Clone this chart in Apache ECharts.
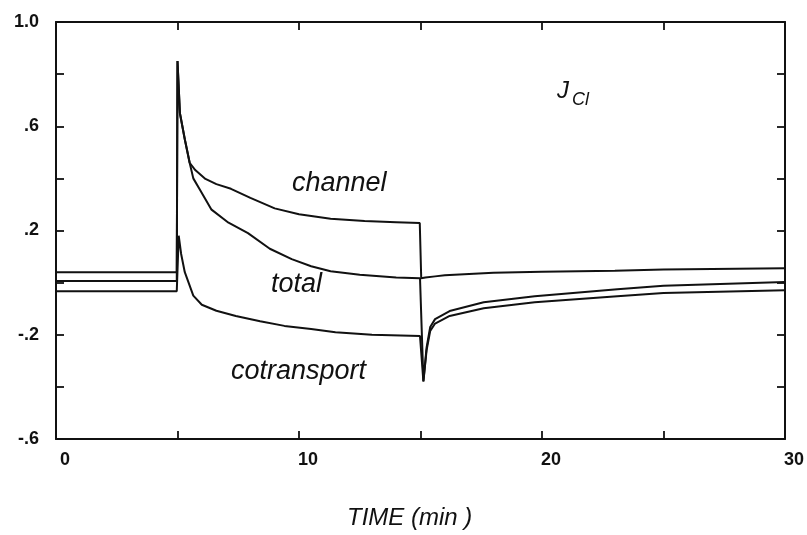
<!DOCTYPE html>
<html>
<head>
<meta charset="utf-8">
<script src="https://cdn.jsdelivr.net/npm/echarts@6/dist/echarts.min.js"></script>
<style>
  html, body { margin: 0; padding: 0; background: #fff; }
  #main { width: 807px; height: 535px; }
</style>
</head>
<body>
<div id="main"></div>
<script>
// J_Cl flux vs time (min)
const channelT = [0, 4.97, 5.0, 5.1, 5.3, 5.5, 5.73, 6.15, 6.6, 7.2, 8.0, 9.0, 10.0, 11.3, 12.7, 14.0, 14.97, 15.03, 15.2, 15.6, 16.0, 17.0, 18.0, 20.0, 23.0, 25.0, 30.0]
const channelV = [0.04, 0.04, 0.85, 0.65, 0.55, 0.46, 0.432, 0.398, 0.378, 0.36, 0.325, 0.285, 0.262, 0.245, 0.236, 0.232, 0.229, 0.017, 0.02, 0.024, 0.028, 0.033, 0.038, 0.042, 0.046, 0.05, 0.055]

const totalT = [0, 4.97, 5.0, 5.1, 5.3, 5.5, 5.65, 5.9, 6.4, 7.1, 7.9, 8.8, 9.7, 10.5, 11.3, 12.5, 14.0, 14.98, 15.12, 15.25, 15.4, 15.6, 16.2, 17.6, 19.7, 23.1, 25.0, 30.0]
const totalV = [0.006, 0.006, 0.85, 0.65, 0.55, 0.46, 0.40, 0.36, 0.28, 0.23, 0.19, 0.13, 0.09, 0.063, 0.044, 0.03, 0.02, 0.017, -0.377, -0.25, -0.17, -0.14, -0.109, -0.075, -0.052, -0.025, -0.012, 0.002]

const cotransT = [0, 4.97, 5.05, 5.15, 5.3, 5.65, 6.0, 6.6, 7.4, 8.4, 9.4, 10.5, 11.5, 13.0, 14.98, 15.12, 15.25, 15.4, 15.6, 16.2, 17.6, 19.7, 23.1, 25.0, 30.0]
const cotransV = [-0.033, -0.033, 0.18, 0.11, 0.04, -0.05, -0.085, -0.108, -0.128, -0.148, -0.166, -0.178, -0.19, -0.2, -0.205, -0.38, -0.26, -0.185, -0.157, -0.128, -0.098, -0.075, -0.052, -0.04, -0.029]

const xTickLabels = ['0', '10', '20', '30']
const yTickLabels = { '10': '1.0', '6': '.6', '2': '.2', '-2': '-.2', '-6': '-.6' }

const pairs = (ts, vs) => ts.map((t, i) => [t, vs[i]])

const FONT = '"Liberation Sans", Arial, sans-serif'
const INK = '#111'

function boxAxis(extra) {
  return Object.assign({
    type: 'value',
    axisLine: { show: true, onZero: false, lineStyle: { color: INK, width: 2 } },
    axisTick: { show: true, inside: true, length: 8, lineStyle: { color: INK, width: 1.8 } },
    splitLine: { show: false },
  }, extra)
}

const chart = echarts.init(document.getElementById('main'))

chart.setOption({
  animation: false,
  backgroundColor: '#fff',
  grid: { left: 56, right: 18, top: 22, bottom: 96 },
  xAxis: [
    boxAxis({
      min: 0, max: 30, interval: 5, position: 'bottom',
      axisLabel: {
        color: INK, fontFamily: FONT, fontSize: 18, fontWeight: 'bold', margin: 12,
        padding: [0, 0, 0, 18],
        formatter: (v) => xTickLabels.includes(String(v)) ? String(v) : '',
      },
    }),
    boxAxis({ min: 0, max: 30, interval: 5, position: 'top', axisLabel: { show: false } }),
  ],
  yAxis: [
    boxAxis({
      min: -0.6, max: 1.0, interval: 0.2, position: 'left',
      axisLabel: {
        color: INK, fontFamily: FONT, fontSize: 18, fontWeight: 'bold', margin: 17,
        formatter: (v) => yTickLabels[String(Math.round(v * 10))] || '',
      },
    }),
    boxAxis({ min: -0.6, max: 1.0, interval: 0.2, position: 'right', axisLabel: { show: false } }),
  ],
  series: [
    { name: 'channel', data: pairs(channelT, channelV) },
    { name: 'total', data: pairs(totalT, totalV) },
    { name: 'cotransport', data: pairs(cotransT, cotransV) },
  ].map((s) => Object.assign({
    type: 'line',
    showSymbol: false,
    lineStyle: { color: INK, width: 2 },
    z: 3,
  }, s)),
  graphic: [
    { type: 'text', left: 292, top: 170, style: { text: 'channel', font: 'italic 27px ' + FONT, fill: INK } },
    { type: 'text', left: 271, top: 271, style: { text: 'total', font: 'italic 27px ' + FONT, fill: INK } },
    { type: 'text', left: 231, top: 358, style: { text: 'cotransport', font: 'italic 27px ' + FONT, fill: INK } },
    {
      type: 'text', left: 557, top: 79,
      style: {
        text: '{j|J}{s|Cl}',
        rich: {
          j: { font: 'italic 24px ' + FONT, fill: INK, verticalAlign: 'top' },
          s: { font: 'italic 18px ' + FONT, fill: INK, padding: [12, 0, 0, 3] },
        },
      },
    },
    { type: 'text', left: 347, top: 506, style: { text: 'TIME (min )', font: 'italic 24px ' + FONT, fill: INK } },
  ],
})
</script>
</body>
</html>
